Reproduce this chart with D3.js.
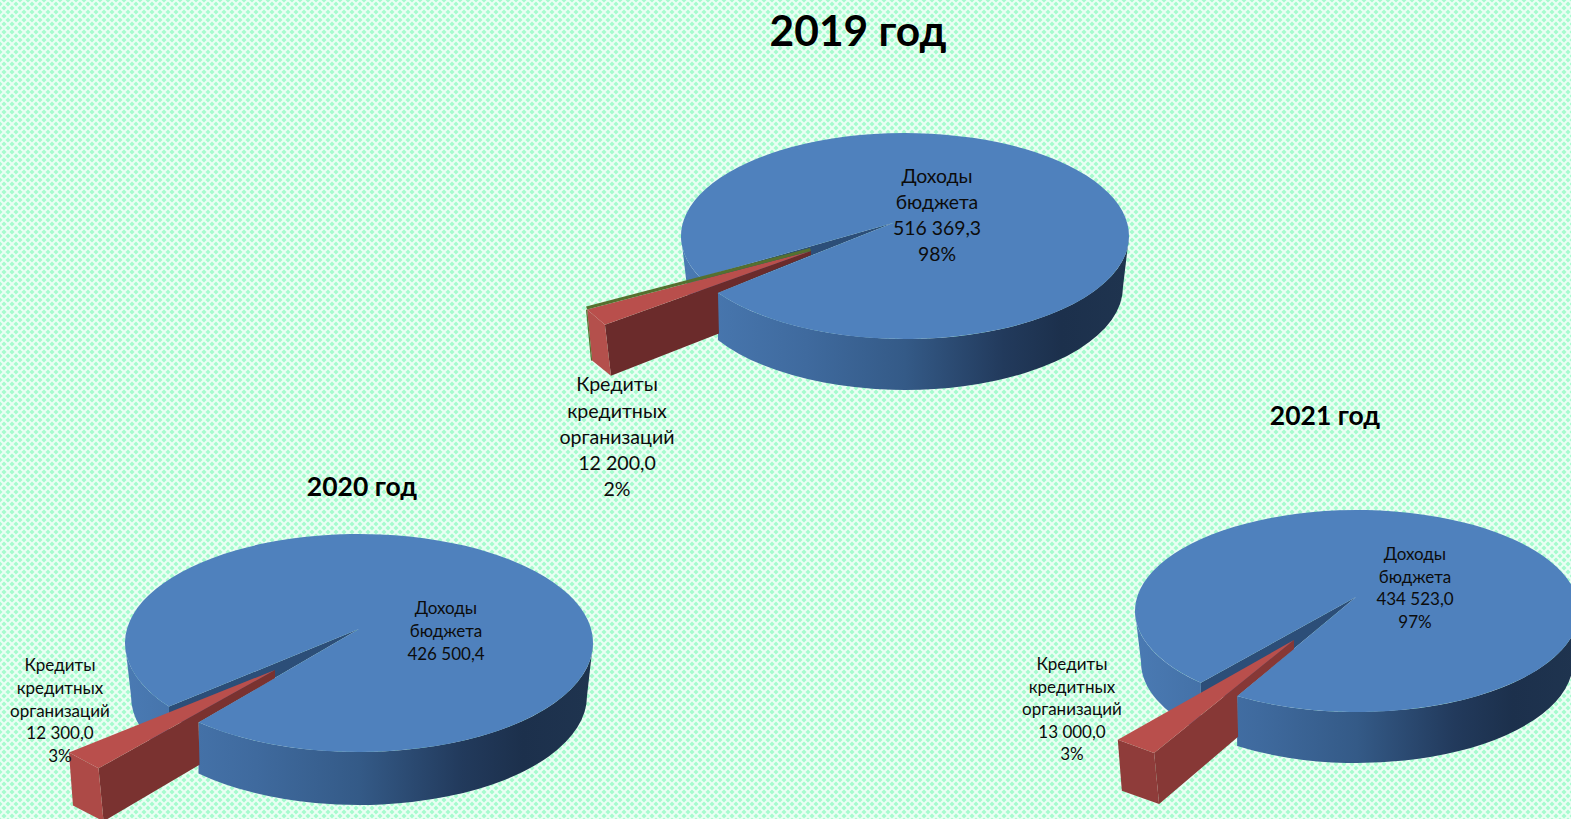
<!DOCTYPE html>
<html lang="ru"><head><meta charset="utf-8">
<style>html,body{margin:0;padding:0;overflow:hidden;background:#c4fde1}svg{display:block}text{font-family:Lato,"Open Sans",sans-serif;fill:#0c0c0c;text-anchor:middle}</style>
<script src="https://cdn.jsdelivr.net/npm/d3@7"></script></head><body>
<script>
// data
const years = ["2019 год", "2020 год", "2021 год"];
const categoryIncome = ["Доходы", "бюджета"];
const categoryCredit = ["Кредиты", "кредитных", "организаций"];
const incomeValues = [516369.3, 426500.4, 434523.0];
const creditValues = [12200.0, 12300.0, 13000.0];
const showIncomePercent = [true, false, true];

// layout per chart
const layouts = [
 {cx:905,cy:236,rx:224,ry:103,depth:51,tip:[893,223],mid:151.4,spread:1.15,ex:[-113,32],tipShift:[31,-4],tipLow:4,lean:6,
  side:"#6b2b2b",face:"#b4504c",sliver:true,
  title:[858,31,42.5],incLab:[937,176.5,26,19.4],credLab:[617,384.5,26.2,19.6]},
 {cx:359,cy:643,rx:234,ry:109,depth:53,tip:[359,629],mid:138.8,spread:1.09,ex:[-100,46],tipShift:[16,-5],tipLow:8,lean:5,
  side:"#7a3230",face:"#ad4a47",sliver:false,
  title:[362,487,26.5],incLab:[446,608.5,22.6,17],credLab:[60,665.5,22.6,17]},
 {cx:1357,cy:611,rx:222,ry:101,depth:51,tip:[1356,597],mid:128.7,spread:1.15,ex:[-83,57],tipShift:[21,-14],tipLow:9,lean:5,
  side:"#873836",face:"#8f3c3a",sliver:false,
  title:[1325,416,26.5],incLab:[1415,554.5,22.5,17],credLab:[1072,664.5,22.5,17]}
];

const W = 1571, H = 819, shrink = 6, tile = 8;
const fmt = d3.formatLocale({decimal:",",thousands:"\u00a0",grouping:[3],currency:["",""]}).format(",.1f");
const pct = d3.format(".0%");
const svg = d3.select("body").append("svg").attr("width",W).attr("height",H);
const defs = svg.append("defs");

// lattice background
const pat = defs.append("pattern").attr("id","bg").attr("patternUnits","userSpaceOnUse").attr("width",tile).attr("height",tile);
pat.append("rect").attr("width",tile).attr("height",tile).attr("fill","#a6fbce");
pat.append("path").attr("d",`M0,0L${tile},${tile}M${tile},0L0,${tile}`).attr("stroke","#fff").attr("stroke-width",2).attr("stroke-opacity",.78);
svg.append("rect").attr("width",W).attr("height",H).attr("fill","url(#bg)");

const pie = d3.pie().sort(null).value(d=>d);
const rad = d=>d*Math.PI/180;

layouts.forEach((L,i)=>{
  const arcs = pie([incomeValues[i],creditValues[i]]);
  const total = incomeValues[i]+creditValues[i];
  const width = (arcs[1].endAngle-arcs[1].startAngle)*L.spread;
  const t1 = rad(L.mid)+width/2, t2 = rad(L.mid)-width/2;       // rim angles of the credit slice
  const at = t=>[L.cx+L.rx*Math.cos(t), L.cy+L.ry*Math.sin(t)];
  const r1 = at(t1), r2 = at(t2);
  const E = `A${L.rx},${L.ry} 0`;
  const rb = L.rx-shrink;
  const Eb = `A${rb},${L.ry} 0`;
  const d = L.depth;
  // point on the lower rim straight below a point of the upper rim
  const below = p=>[p[0], L.cy+d+L.ry*Math.sqrt(1-Math.pow((p[0]-L.cx)/rb,2))];
  const g = svg.append("g");
  const gid = "wall"+i;
  const gr = defs.append("linearGradient").attr("id",gid).attr("gradientUnits","userSpaceOnUse")
    .attr("x1",L.cx-L.rx).attr("x2",L.cx+L.rx).attr("y1",0).attr("y2",0);
  [[0,"#4a7ab3"],[.28,"#3f6a9e"],[.5,"#345a87"],[.72,"#223a5c"],[.85,"#1c304c"],[1,"#1f344f"]]
    .forEach(s=>gr.append("stop").attr("offset",s[0]).attr("stop-color",s[1]));

  const right = at(0), left = at(Math.PI);
  const bR = [L.cx+rb, L.cy+d], bL = [L.cx-rb, L.cy+d];
  const b2 = below(r2), b1 = below(r1);
  // side wall right of the notch
  g.append("path").attr("fill",`url(#${gid})`).attr("d",
    `M${right}L${bR}${Eb} 0 1 ${b2}L${r2}${E} 0 0 ${right}Z`);
  // side wall left of the notch
  g.append("path").attr("fill",`url(#${gid})`).attr("d",
    `M${left}L${bL}${Eb} 0 0 ${b1}L${r1}${E} 0 1 ${left}Z`);
  // notch inner wall
  g.append("path").attr("fill","#2c4e78").attr("d",`M${L.tip}L${r1}L${r1[0]},${r1[1]+d*.3}L${r2}Z`);
  // top of income slice
  g.append("path").attr("fill","#4f81bd").attr("d",`M${L.tip}L${r2}${E} 1 0 ${r1}Z`);

  // exploded credit slice
  const pL = [r1[0]+L.ex[0], r1[1]+L.ex[1]], pF = [r2[0]+L.ex[0], r2[1]+L.ex[1]];
  const tipW = [L.tip[0]+L.ex[0]+L.tipShift[0], L.tip[1]+L.ex[1]+L.tipShift[1]];
  const pLb = [pL[0]+L.lean-1, pL[1]+d], pFb = [pF[0]+L.lean, pF[1]+d];
  const wallEnd = [r2[0]+1, r2[1]+d*.8];
  g.append("path").attr("fill",L.side).attr("d",
    `M${pF}L${tipW}L${tipW[0]},${tipW[1]+L.tipLow}L${r2}L${wallEnd}L${pFb}Z`);
  g.append("path").attr("fill",L.face).attr("d",`M${pL}L${pF}L${pFb}L${pLb}Z`);
  g.append("path").attr("fill","#b94f4c").attr("d",`M${tipW}L${pL}L${pF}Z`);
  if (L.sliver) {
    g.append("path").attr("fill","#55702f").attr("d",
      `M${tipW[0]-1},${tipW[1]-3}L${pL[0]-1},${pL[1]-3}L${pL}L${tipW}Z`);
    g.append("path").attr("fill","none").attr("stroke","#55702f").attr("stroke-width",1.2).attr("d",`M${pL[0]-.5},${pL[1]}L${pLb[0]-.5},${pLb[1]}`);
  }

  // texts
  const lines = (x,y,lh,fs,arr)=>arr.forEach((t,k)=>g.append("text").attr("x",x).attr("y",y+k*lh)
    .attr("dy",".35em").attr("font-size",fs).text(t));
  const incArr = [...categoryIncome, fmt(incomeValues[i])];
  if (showIncomePercent[i]) incArr.push(pct(incomeValues[i]/total));
  lines(L.incLab[0],L.incLab[1],L.incLab[2],L.incLab[3],incArr);
  lines(L.credLab[0],L.credLab[1],L.credLab[2],L.credLab[3],[...categoryCredit, fmt(creditValues[i]), pct(creditValues[i]/total)]);
  g.append("text").attr("x",L.title[0]).attr("y",L.title[1]).attr("dy",".35em")
    .attr("font-size",L.title[2]).attr("font-weight",700).style("fill","#000").text(years[i]);
});
</script></body></html>
